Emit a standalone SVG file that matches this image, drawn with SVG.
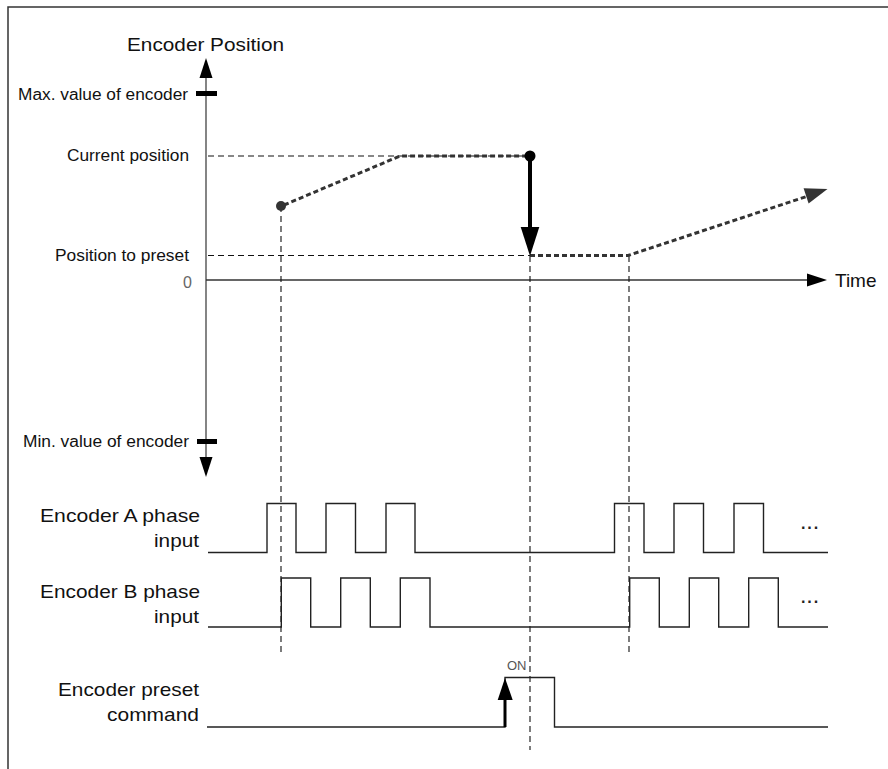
<svg xmlns="http://www.w3.org/2000/svg" width="888" height="769" viewBox="0 0 888 769">
<style>
text{font-family:"Liberation Sans",Arial,sans-serif;fill:#111}
.big{font-size:19px}
.sm{font-size:16px}
.dash{stroke:#111;stroke-width:1.1;stroke-dasharray:6,4;fill:none}
.dot{stroke:#333;stroke-width:3;stroke-dasharray:5,3;fill:none}
.sig{stroke:#222;stroke-width:1.4;fill:none}
.axis{stroke:#666;stroke-width:1.6;fill:none}
.ell{font-size:16px;font-weight:bold;letter-spacing:1px;fill:#222}
</style>
<rect x="8" y="7" width="1000" height="1000" fill="#fff" stroke="#333" stroke-width="1.5"/>

<g id="y-axis">
<line class="axis" x1="206" y1="76" x2="206" y2="459"/>
<polygon points="206,58 199.5,78 212.5,78" fill="#000"/>
<polygon points="206,477 199.5,457 212.5,457" fill="#000"/>
<rect x="196" y="91" width="21" height="5" fill="#000"/>
<rect x="197" y="439" width="20" height="5" fill="#000"/>
<text class="big" x="127" y="51" textLength="157" lengthAdjust="spacingAndGlyphs">Encoder Position</text>
<text class="sm" x="18" y="100" textLength="170" lengthAdjust="spacingAndGlyphs">Max. value of encoder</text>
<text class="sm" x="67" y="161" textLength="122" lengthAdjust="spacingAndGlyphs">Current position</text>
<text class="sm" x="55" y="261" textLength="134" lengthAdjust="spacingAndGlyphs">Position to preset</text>
<text class="sm" x="183" y="288" style="fill:#666">0</text>
<text class="sm" x="23" y="447" textLength="166" lengthAdjust="spacingAndGlyphs">Min. value of encoder</text>
</g>

<g id="time-axis">
<line x1="206" y1="280" x2="808" y2="280" stroke="#333" stroke-width="1.4"/>
<polygon points="827,280 807,273.5 807,286.5" fill="#000"/>
<text x="835" y="287" style="font-size:19px">Time</text>
</g>

<g id="connectors">
<line class="dash" x1="208" y1="156" x2="530" y2="156"/>
<line class="dash" x1="208" y1="255.5" x2="530" y2="255.5"/>
<line class="dash" x1="281" y1="206" x2="281" y2="654"/>
<line class="dash" x1="530" y1="256" x2="530" y2="750"/>
<line class="dash" x1="629" y1="256" x2="629" y2="654"/>
<polyline class="dot" points="284,205 400,156 530,156"/>
<polyline class="dot" points="530,255.5 628,255.5 808,196"/>
<polygon points="827.5,189 803.6,188.3 808.6,203.5" fill="#333"/>
<circle cx="281" cy="206" r="5" fill="#333"/>
<circle cx="530" cy="156" r="5.5" fill="#000"/>
<line x1="530" y1="156" x2="530" y2="230" stroke="#000" stroke-width="4"/>
<polygon points="530,256 520.7,227 539.3,227" fill="#000"/>
</g>

<g id="phase-a">
<text class="big" x="40" y="522" textLength="160" lengthAdjust="spacingAndGlyphs">Encoder A phase</text>
<text class="big" x="154" y="547" textLength="45" lengthAdjust="spacingAndGlyphs">input</text>
<polyline class="sig" points="208,552.5 267,552.5 267,503.5 296,503.5 296,552.5 326,552.5 326,503.5 355.5,503.5 355.5,552.5 386,552.5 386,503.5 415,503.5 415,552.5 614.5,552.5 614.5,503.5 644,503.5 644,552.5 674,552.5 674,503.5 703.5,503.5 703.5,552.5 734,552.5 734,503.5 763.5,503.5 763.5,552.5 828,552.5"/>
<text class="ell" x="801" y="533">···</text>
</g>

<g id="phase-b">
<text class="big" x="40" y="598" textLength="160" lengthAdjust="spacingAndGlyphs">Encoder B phase</text>
<text class="big" x="154" y="623" textLength="45" lengthAdjust="spacingAndGlyphs">input</text>
<polyline class="sig" points="208,627 281.3,627 281.3,578 310.7,578 310.7,627 340.7,627 340.7,578 370.3,578 370.3,627 400.3,627 400.3,578 430,578 430,627 629.7,627 629.7,578 659.3,578 659.3,627 689.3,627 689.3,578 718.7,578 718.7,627 748.7,627 748.7,578 778.3,578 778.3,627 828,627"/>
<text class="ell" x="801" y="607">···</text>
</g>

<g id="preset-command">
<text class="big" x="58" y="696" textLength="141" lengthAdjust="spacingAndGlyphs">Encoder preset</text>
<text class="big" x="107" y="721" textLength="92" lengthAdjust="spacingAndGlyphs">command</text>
<polyline class="sig" points="207,727 505,727 505,677.5 554.5,677.5 554.5,727 828,727"/>
<line x1="505" y1="727" x2="505" y2="698" stroke="#000" stroke-width="3"/>
<polygon points="505,678 497.7,700 512.7,700" fill="#000"/>
<text x="507" y="670" style="font-size:13px;fill:#555">ON</text>
</g>
</svg>
